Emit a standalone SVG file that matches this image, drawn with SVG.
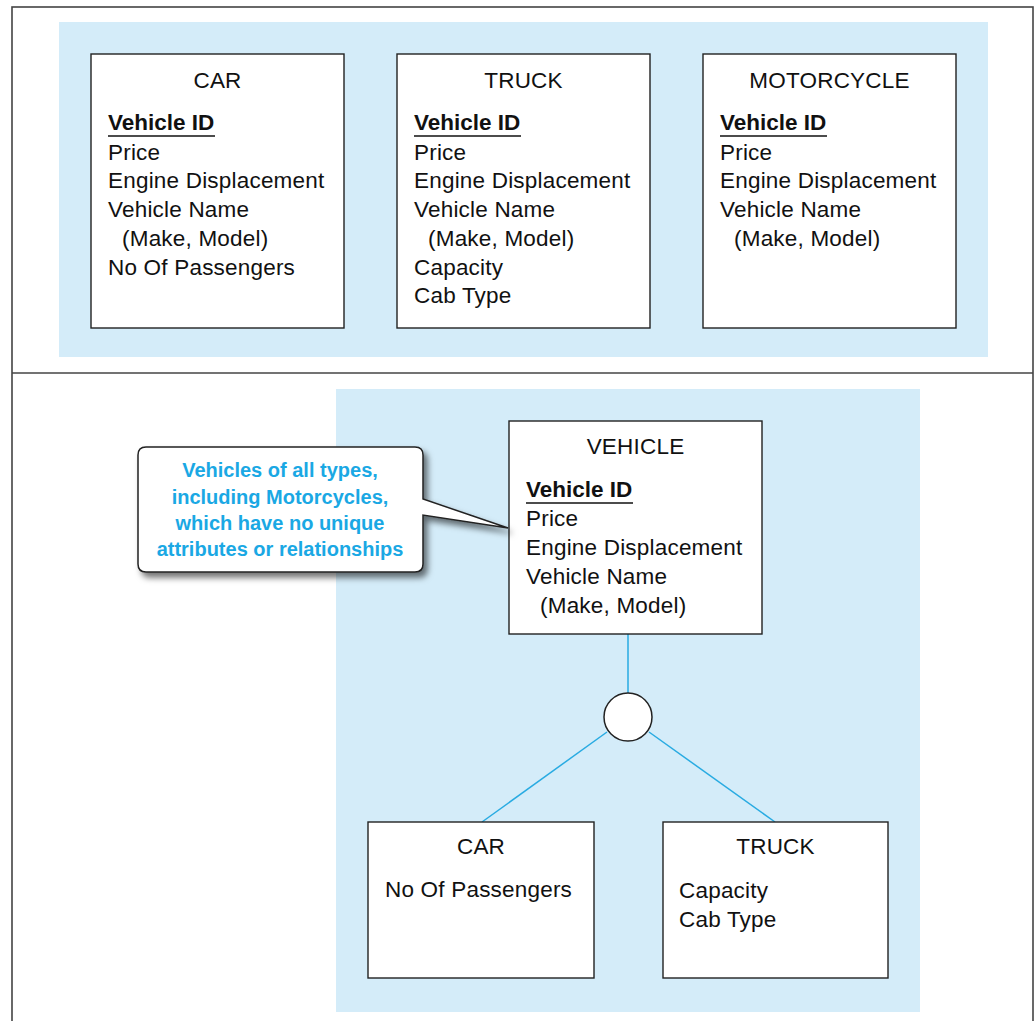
<svg xmlns="http://www.w3.org/2000/svg" width="1035" height="1021" viewBox="0 0 1035 1021">
  <defs>
    <style>
      .frame { fill: none; stroke: #444; stroke-width: 1.6; }
      .panel { fill: #d4ecf9; }
      .box { fill: #fff; stroke: #222; stroke-width: 1.4; }
      .t { font-family: "Liberation Sans", Arial, sans-serif; font-size: 22.5px; letter-spacing: 0.2px; fill: #111; }
      .title { text-anchor: middle; }
      .key { font-weight: bold; letter-spacing: 0; }
      .ul { stroke: #111; stroke-width: 1.5; }
      .conn { stroke: #29abe2; stroke-width: 1.5; fill: none; }
      .note { font-family: "Liberation Sans", Arial, sans-serif; font-size: 20px; font-weight: bold; fill: #1aa8e4; text-anchor: middle; }
      .callout { fill: #fff; stroke: #222; stroke-width: 1.5; }
    </style>
    <filter id="shadow" x="-20%" y="-20%" width="140%" height="150%">
      <feDropShadow dx="4" dy="5" stdDeviation="3" flood-color="#000" flood-opacity="0.55"/>
    </filter>
  </defs>

  <rect x="0" y="0" width="1035" height="1021" fill="#fff"/>

  <!-- frame -->
  <g id="frame">
    <rect class="frame" x="12" y="7" width="1021" height="1030"/>
    <line class="frame" x1="12" y1="373" x2="1033" y2="373"/>
  </g>

  <!-- panels -->
  <rect class="panel" x="59" y="22" width="929" height="335"/>
  <rect class="panel" x="336" y="389" width="584" height="623"/>

  <!-- Top: separate entities -->
  <g id="car-top">
    <rect class="box" x="91" y="54" width="253" height="274"/>
    <text class="t title" x="217.5" y="88">CAR</text>
    <text class="t key" x="108" y="130">Vehicle ID</text>
    <line class="ul" x1="108" y1="136" x2="215" y2="136"/>
    <text class="t" x="108" y="160">Price</text>
    <text class="t" x="108" y="188">Engine Displacement</text>
    <text class="t" x="108" y="217">Vehicle Name</text>
    <text class="t" x="122" y="246">(Make, Model)</text>
    <text class="t" x="108" y="275">No Of Passengers</text>
  </g>

  <g id="truck-top">
    <rect class="box" x="397" y="54" width="253" height="274"/>
    <text class="t title" x="523.5" y="88">TRUCK</text>
    <text class="t key" x="414" y="130">Vehicle ID</text>
    <line class="ul" x1="414" y1="136" x2="521" y2="136"/>
    <text class="t" x="414" y="160">Price</text>
    <text class="t" x="414" y="188">Engine Displacement</text>
    <text class="t" x="414" y="217">Vehicle Name</text>
    <text class="t" x="428" y="246">(Make, Model)</text>
    <text class="t" x="414" y="275">Capacity</text>
    <text class="t" x="414" y="303">Cab Type</text>
  </g>

  <g id="motorcycle-top">
    <rect class="box" x="703" y="54" width="253" height="274"/>
    <text class="t title" x="829.5" y="88">MOTORCYCLE</text>
    <text class="t key" x="720" y="130">Vehicle ID</text>
    <line class="ul" x1="720" y1="136" x2="827" y2="136"/>
    <text class="t" x="720" y="160">Price</text>
    <text class="t" x="720" y="188">Engine Displacement</text>
    <text class="t" x="720" y="217">Vehicle Name</text>
    <text class="t" x="734" y="246">(Make, Model)</text>
  </g>

  <!-- connectors -->
  <g id="connectors">
    <line class="conn" x1="628" y1="634" x2="628" y2="693"/>
    <line class="conn" x1="607" y1="732" x2="482" y2="822"/>
    <line class="conn" x1="649" y1="732" x2="775" y2="822"/>
  </g>

  <!-- Bottom: supertype/subtype -->
  <g id="vehicle">
    <rect class="box" x="509" y="421" width="253" height="213"/>
    <text class="t title" x="635.5" y="454">VEHICLE</text>
    <text class="t key" x="526" y="497">Vehicle ID</text>
    <line class="ul" x1="526" y1="503" x2="633" y2="503"/>
    <text class="t" x="526" y="526">Price</text>
    <text class="t" x="526" y="555">Engine Displacement</text>
    <text class="t" x="526" y="584">Vehicle Name</text>
    <text class="t" x="540" y="613">(Make, Model)</text>
  </g>

  <g id="subtype-circle">
    <circle cx="628" cy="717" r="24" fill="#fff" stroke="#222" stroke-width="1.5"/>
  </g>

  <g id="car-sub">
    <rect class="box" x="368" y="822" width="226" height="156"/>
    <text class="t title" x="481" y="854">CAR</text>
    <text class="t" x="385" y="897">No Of Passengers</text>
  </g>

  <g id="truck-sub">
    <rect class="box" x="663" y="822" width="225" height="156"/>
    <text class="t title" x="775.5" y="854">TRUCK</text>
    <text class="t" x="679" y="898">Capacity</text>
    <text class="t" x="679" y="927">Cab Type</text>
  </g>

  <!-- callout -->
  <g id="callout">
    <path class="callout" filter="url(#shadow)" d="M 146,447 H 415 Q 423,447 423,455 V 499 L 508,528 L 423,515 V 564 Q 423,572 415,572 H 146 Q 138,572 138,564 V 455 Q 138,447 146,447 Z"/>
    <text class="note" x="280" y="477">Vehicles of all types,</text>
    <text class="note" x="280" y="503.5">including Motorcycles,</text>
    <text class="note" x="280" y="530">which have no unique</text>
    <text class="note" x="280" y="556">attributes or relationships</text>
  </g>
</svg>
